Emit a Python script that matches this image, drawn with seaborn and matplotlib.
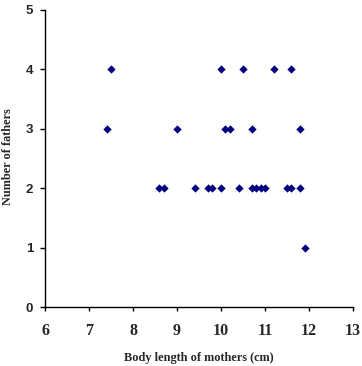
import matplotlib
matplotlib.use('Agg')

import seaborn as sns
import matplotlib.pyplot as plt
import pandas as pd

# --- body length of mothers (cm) and number of fathers ---
length_4 = [7.5, 10.0, 10.5, 11.2, 11.6]
length_3 = [7.4, 9.0, 10.1, 10.2, 10.7, 11.8]
length_2 = [8.6, 8.7, 9.4, 9.7, 9.8, 10.0, 10.4, 10.7, 10.8, 10.9, 11.0,
            11.5, 11.6, 11.8]
length_1 = [11.9]

x_ticks = [6, 7, 8, 9, 10, 11, 12, 13]
y_ticks = [0, 1, 2, 3, 4, 5]

lengths = length_4 + length_3 + length_2 + length_1
fathers = [4] * len(length_4) + [3] * len(length_3) + [2] * len(length_2) + [1] * len(length_1)
data = pd.DataFrame({'length': lengths, 'fathers': fathers})

sns.set_style('white')

fig = plt.figure(figsize=(3.62, 3.66), dpi=100)
ax = fig.add_axes([45 / 362, 1 - 307 / 366, 308 / 362, 297 / 366])

sns.scatterplot(data=data, x='length', y='fathers', marker='D', color='#000080',
                s=18, linewidth=0, ax=ax)

ax.set_xlim(6, 13)
ax.set_ylim(0, 5)
ax.set_xticks(x_ticks)
ax.set_yticks(y_ticks)
ax.set_xticklabels([str(t) for t in x_ticks], family='Liberation Serif',
                   fontweight='bold', fontsize=11.5)
ax.set_yticklabels([str(t) for t in y_ticks], family='Liberation Sans',
                   fontweight='bold', fontsize=9.5)
ax.tick_params(axis='x', direction='out', length=3, width=1, color='black',
               pad=8.5, bottom=True)
ax.tick_params(axis='y', direction='out', length=3.6, width=1, color='black',
               pad=5, left=True)

for side in ['top', 'right']:
    ax.spines[side].set_visible(False)
for side in ['left', 'bottom']:
    ax.spines[side].set_color('black')
    ax.spines[side].set_linewidth(1)

ax.set_xlabel('Body length of mothers (cm)', family='Liberation Serif',
              fontweight='bold', fontsize=8.8)
ax.set_ylabel('Number of fathers', family='Liberation Serif',
              fontweight='bold', fontsize=8.8)
ax.xaxis.set_label_coords(0.5, -0.152)
ax.yaxis.set_label_coords(-0.100, 0.505)

plt.savefig('out.png', dpi=100)
plt.close()
